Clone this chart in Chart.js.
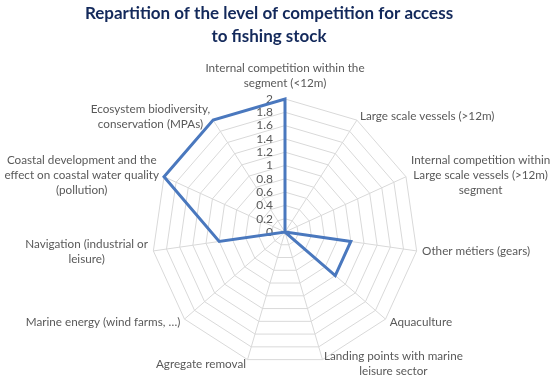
<!DOCTYPE html>
<html><head><meta charset="utf-8">
<script src="https://cdn.jsdelivr.net/npm/chart.js@4/dist/chart.umd.min.js"></script>
<style>html,body{margin:0;padding:0;background:#fff}#wrap{width:555px;height:380px}</style>
</head><body><div id="wrap"><canvas id="c" width="555" height="380"></canvas></div>
<script>
const categories = [
  ["Internal competition within the", "segment (<12m)"],
  ["Large scale vessels (>12m)"],
  ["Internal competition within", "Large scale vessels (>12m)", "segment"],
  ["Other métiers (gears)"],
  ["Aquaculture"],
  ["Landing points with marine", "leisure sector"],
  ["Agregate removal"],
  ["Marine energy (wind farms, …)"],
  ["Navigation (industrial or", "leisure)"],
  ["Coastal development and the", "effect on coastal water quality", "(pollution)"],
  ["Ecosystem biodiversity,", "conservation (MPAs)"]
];
const competitionLevel = [2, 0, 0, 1, 1, 0, 0, 0, 1, 2, 2];
const axisMin = 0, axisMax = 2, axisStep = 0.2;
const titleLines = ["Repartition of the level of competition for access", "to fishing stock"];

const FONT = "Lato, 'Open Sans', sans-serif";
const TEXT_COLOR = "#595959";

// Title, tick labels and category labels drawn as canvas text, placed from the radial scale
const textPlugin = {
  id: 'radarText',
  beforeDatasetsDraw(chart) {
    const s = chart.scales.r;
    const ctx = chart.ctx;
    ctx.save();
    // tick labels
    ctx.font = "12px " + FONT;
    ctx.fillStyle = TEXT_COLOR;
    ctx.textAlign = "right";
    ctx.textBaseline = "middle";
    s.ticks.forEach(t => {
      const d = s.getDistanceFromCenterForValue(t.value);
      ctx.fillText(String(+t.value.toFixed(1)), s.xCenter - 12, s.yCenter - d);
    });
    // category labels
    ctx.font = "11.7px " + FONT;
    ctx.textAlign = "center";
    const lineH = 15;
    chart.data.labels.forEach((lab, i) => {
      const lines = Array.isArray(lab) ? lab : [lab];
      const a = s.getIndexAngle(i);
      const p = s.getPointPosition(i, s.drawingArea);
      const sn = Math.sin(a), cs = Math.cos(a);
      const maxW = Math.max(...lines.map(l => ctx.measureText(l).width));
      const blockH = lines.length * lineH;
      let cx, top;
      if (Math.abs(sn) < 0.05) {
        cx = p.x;
        top = cs > 0 ? p.y - 8 - blockH : p.y + 8;
      } else {
        const off = 5.5 * Math.abs(sn);
        const left = sn > 0 ? p.x + off : p.x - off - maxW;
        cx = left + maxW / 2;
        top = p.y - 4.5 * cs - blockH / 2;
      }
      lines.forEach((l, k) => ctx.fillText(l, cx, top + lineH * (k + 0.5)));
    });
    ctx.restore();
  },
  afterDraw(chart) {
    const ctx = chart.ctx;
    ctx.save();
    ctx.font = "bold 17px " + FONT;
    ctx.fillStyle = "#13295B";
    ctx.textAlign = "center";
    ctx.textBaseline = "middle";
    titleLines.forEach((t, k) => ctx.fillText(t, 269, 14 + k * 23));
    ctx.restore();
  }
};

new Chart(document.getElementById('c'), {
  type: 'radar',
  data: {
    labels: categories,
    datasets: [{
      data: competitionLevel,
      borderColor: '#4A78BE',
      borderWidth: 3,
      fill: false,
      pointRadius: 0,
      pointHoverRadius: 0,
      tension: 0
    }]
  },
  options: {
    responsive: false,
    animation: false,
    layout: { padding: { left: 15, right: 0, top: 99, bottom: 15 } },
    plugins: {
      legend: { display: false },
      tooltip: { enabled: false },
      title: { display: false }
    },
    scales: {
      r: {
        min: axisMin, max: axisMax,
        ticks: { stepSize: axisStep, display: false },
        grid: { color: '#d9d9d9', lineWidth: 1 },
        angleLines: { color: '#d9d9d9', lineWidth: 1 },
        pointLabels: { display: false }
      }
    }
  },
  plugins: [textPlugin]
});
</script></body></html>
